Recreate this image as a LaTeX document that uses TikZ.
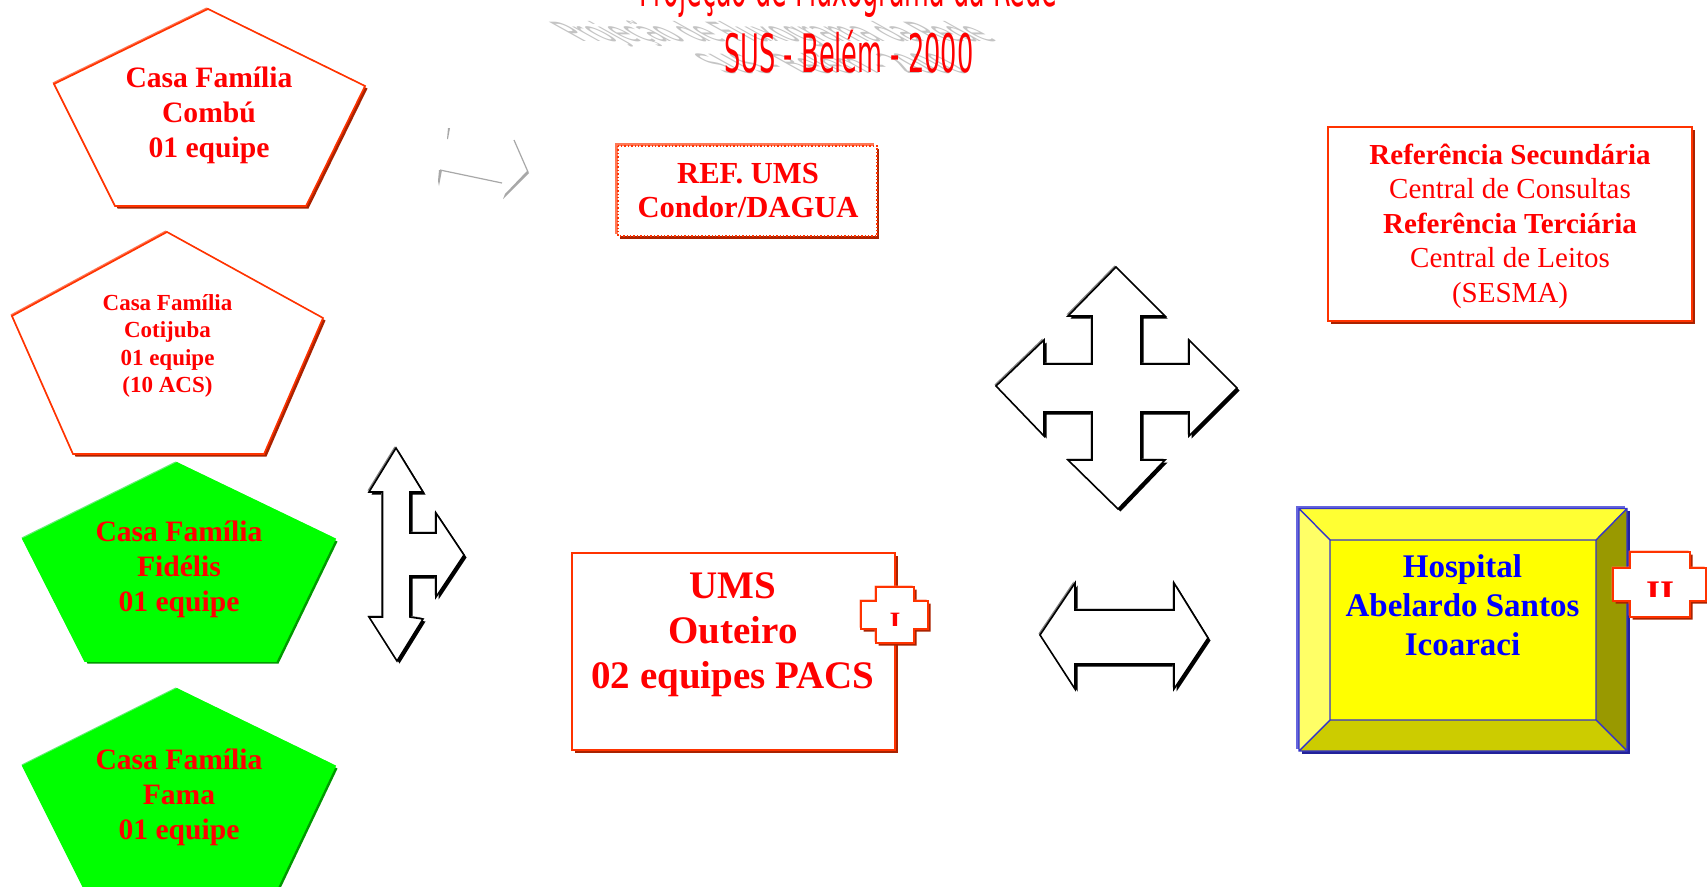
\documentclass[tikz,border=0pt]{standalone}
\usepackage{fontspec}
\usepackage{graphicx}
\setmainfont{Liberation Serif}
\newfontfamily\titlefont{DejaVu Sans}
\definecolor{rline}{HTML}{FF3300}
\definecolor{rlight}{HTML}{FF7755}
\definecolor{rdark}{HTML}{AA2200}
\definecolor{gfill}{HTML}{00FF00}
\definecolor{glight}{HTML}{66EE77}
\definecolor{gdark}{HTML}{009900}
\definecolor{bline}{HTML}{3333CC}
\definecolor{blight}{HTML}{6666DD}
\definecolor{bdark}{HTML}{222299}
\definecolor{shadowgray}{HTML}{C4C4C4}
\definecolor{fragment}{HTML}{A8A8A8}
\definecolor{bevtop}{HTML}{FFFF33}
\definecolor{bevleft}{HTML}{FFFF66}
\definecolor{bevright}{HTML}{999900}
\definecolor{bevbottom}{HTML}{CCCC00}
\definecolor{purered}{HTML}{FF0000}
\definecolor{pureblue}{HTML}{0000FF}
\definecolor{pureyellow}{HTML}{FFFF00}
% light colour, dark colour, fill, line colour, path
\newcommand{\bevelled}[5]{%
  \fill[#2,shift={(2.5,2.5)}] #5 -- cycle;
  \fill[#1,shift={(-1.5,-1.5)}] #5 -- cycle;
  \draw[#4,fill=#3,line width=1.6pt,line join=miter] #5 -- cycle;
}
\tikzset{
  redtext/.style={text=purered,align=center,inner sep=0pt,font=\bfseries\fontsize{29.6}{34.8}\selectfont},
  plainred/.style={text=purered,align=center,inner sep=0pt,font=\fontsize{29}{34.5}\selectfont},
  titlered/.style={text=purered,inner sep=0pt,anchor=base,font=\titlefont\fontsize{53}{60}\selectfont},
  titleshade/.style={text=shadowgray,inner sep=0pt,anchor=base,transform shape,font=\titlefont\fontsize{53}{60}\selectfont},
  frag/.style={fragment,line width=1.2pt}
}
\begin{document}
\begin{tikzpicture}[x=1pt,y=-1pt]
\clip (0,0) rectangle (1707,886);
\fill[white] (0,0) rectangle (1707,886);

% title
\node[titleshade,cm={1,0,-.9,.5,(0,0)}] (shadeA) at (790,41) {\resizebox{418pt}{\height}{Projeção de Fluxograma da Rede}};
\node[titleshade,cm={1,0,-.9,.5,(0,0)}] (shadeB) at (848,73) {\resizebox{247pt}{\height}{SUS - Belém - 2000}};
\node[titlered] (titleA) at (848,6) {\resizebox{418pt}{\height}{Projeção de Fluxograma da Rede}};
\node[titlered] (titleB) at (849,72) {\resizebox{249pt}{\height}{SUS - Belém - 2000}};

% pentagons
\bevelled{rlight}{rdark}{white}{rline}{(208,9) -- (365,86) -- (306,206) -- (115,206) -- (54,84)}
\node[redtext] (combu) at (209,115.5) {Casa Família\\Combú\\01 equipe};
\bevelled{rlight}{rdark}{white}{rline}{(167,232) -- (323,318) -- (264,454) -- (73,454) -- (12,316)}
\node[redtext,font=\bfseries\fontsize{23}{27.2}\selectfont] (cotijuba) at (167.5,346) {Casa Família\\Cotijuba\\01 equipe\\(10 ACS)};
\bevelled{glight}{gdark}{gfill}{gfill}{(177,463) -- (335,539) -- (276,661) -- (85,661) -- (23,539)}
\node[redtext] (fidelis) at (179,569.5) {Casa Família\\Fidélis\\01 equipe};
\bevelled{glight}{gdark}{gfill}{gfill}{(177,689) -- (335,766) -- (276,890) -- (85,890) -- (23,766)}
\node[redtext] (fama) at (179,797.5) {Casa Família\\Fama\\01 equipe};

% faint fragments
\draw[frag] (440,170) -- (502,183);
\fill[fragment] (439,170) -- (442,170) -- (439,186) -- (438,181) -- cycle;
\fill[fragment] (448,128) -- (450,128) -- (448,139) -- (447,139) -- cycle;
\draw[frag] (514,140) -- (528,172);
\fill[fragment] (527,171) -- (529,173) -- (503,199) -- (505,194) -- cycle;

% REF box
\fill[rdark] (620,149) rectangle (879,239);
\fill[rlight] (615,143) rectangle (874,234);
\draw[rline,fill=white,line width=1.4pt,dotted] (618,146) rectangle (877,236);
\node[redtext,font=\bfseries\fontsize{30.6}{34.8}\selectfont] (ref) at (748,190.5) {REF. UMS\\Condor/DAGUA};

% Referencia box
\bevelled{rlight}{rdark}{white}{rline}{(1328,127) -- (1692,127) -- (1692,321) -- (1328,321)}
\node[plainred] (refs) at (1510,226) {\textbf{Referência Secundária}\\Central de Consultas\\\textbf{Referência Terciária}\\Central de Leitos\\(SESMA)};

% arrows
\bevelled{gray}{black}{white}{black}{(396,448) -- (423,492) -- (410,492) -- (410,533) -- (436,533) -- (436,513) -- (464,555) -- (436,597) -- (436,576) -- (410,576) -- (410,617) -- (423,619) -- (397,661) -- (369,617) -- (382.5,617) -- (382.5,492) -- (369,492)}
\bevelled{gray}{black}{white}{black}{(1116,267) -- (1165,316) -- (1141,316) -- (1141,364) -- (1189,364) -- (1189,340) -- (1237,388) -- (1189,436) -- (1189,412) -- (1141,412) -- (1141,460) -- (1165,460) -- (1118,509) -- (1068,460) -- (1092,460) -- (1092,412) -- (1044,412) -- (1044,436) -- (996,386) -- (1044,340) -- (1044,364) -- (1092,364) -- (1092,316) -- (1068,316)}
\bevelled{gray}{black}{white}{black}{(1040,635) -- (1075,583) -- (1075,610) -- (1174,610) -- (1174,583) -- (1208,638) -- (1174,689) -- (1174,664) -- (1075,664) -- (1075,689)}

% UMS
\bevelled{rlight}{rdark}{white}{rline}{(572,553) -- (895,553) -- (895,750) -- (572,750)}
\node[redtext,font=\bfseries\fontsize{39}{45}\selectfont] (ums) at (733,635) {UMS\\Outeiro\\02 equipes PACS};
\bevelled{rlight}{rdark}{white}{rline}{(876,587) -- (914,587) -- (914,601) -- (928,601) -- (928,629) -- (914,629) -- (914,643) -- (876,643) -- (876,629) -- (861,629) -- (861,601) -- (876,601)}
\begin{scope}
\clip (870,605) rectangle (920,625.5);
\node[text=purered,inner sep=0pt,anchor=base,font=\bfseries\fontsize{28}{28}\selectfont] (crossA) at (895,631) {I};
\end{scope}

% Hospital
\fill[blight] (1296,505.5) rectangle (1625,749);
\fill[bdark] (1302,511) rectangle (1630,754);
\fill[bevtop] (1299,508.5) -- (1627,508.5) -- (1596,540) -- (1330,540) -- cycle;
\fill[bevleft] (1299,508.5) -- (1330,540) -- (1330,720) -- (1299,751) -- cycle;
\fill[bevright] (1627,508.5) -- (1596,540) -- (1596,720) -- (1627,751) -- cycle;
\fill[bevbottom] (1299,751) -- (1330,720) -- (1596,720) -- (1627,751) -- cycle;
\fill[pureyellow] (1330,540) rectangle (1596,720);
\draw[bline,line width=1.4pt] (1299,508.5) rectangle (1627,751) (1330,540) rectangle (1596,720)
  (1299,508.5) -- (1330,540) (1627,508.5) -- (1596,540) (1299,751) -- (1330,720) (1627,751) -- (1596,720);
\node[redtext,text=pureblue,font=\bfseries\fontsize{33}{39}\selectfont] (hospital) at (1462.5,605) {Hospital\\Abelardo Santos\\Icoaraci};
\bevelled{rlight}{rdark}{white}{rline}{(1630,552) -- (1690,552) -- (1690,568) -- (1706,568) -- (1706,601) -- (1690,601) -- (1690,617) -- (1630,617) -- (1630,601) -- (1613,601) -- (1613,568) -- (1630,568)}
\begin{scope}
\clip (1640,575) rectangle (1680,596);
\node[text=purered,inner sep=0pt,anchor=base,font=\bfseries\fontsize{36}{36}\selectfont] (crossB) at (1660,605) {II};
\end{scope}
\end{tikzpicture}
\end{document}
